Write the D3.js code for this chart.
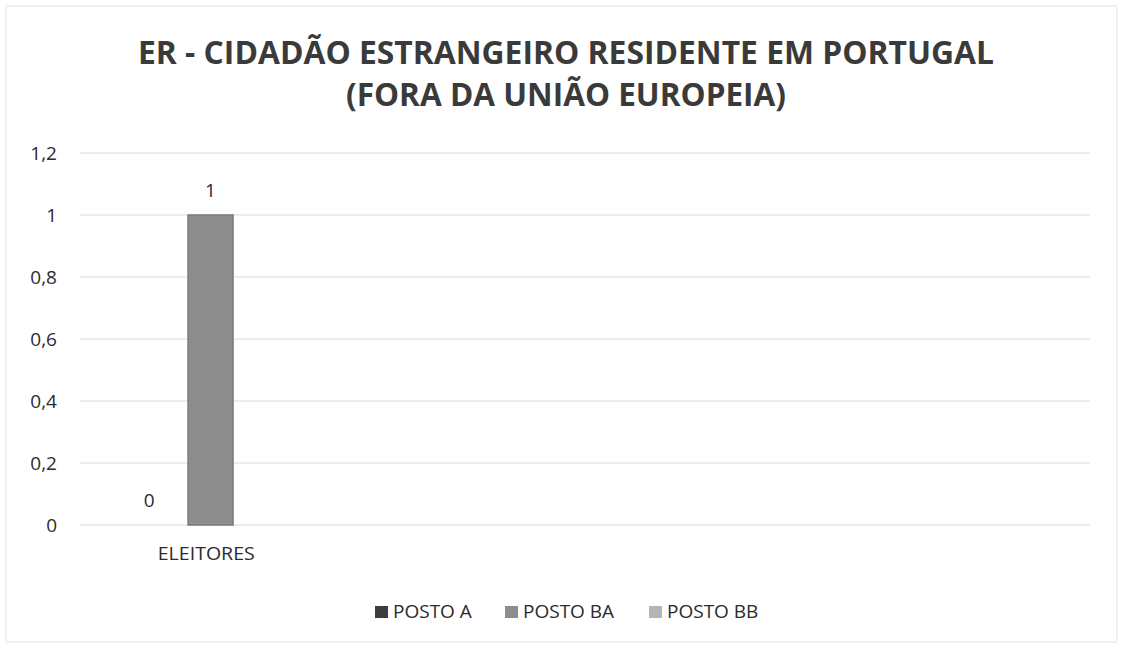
<!DOCTYPE html>
<html>
<head>
<meta charset="utf-8">
<script src="https://cdn.jsdelivr.net/npm/d3@7"></script>
<style>
  body { margin: 0; background: #fff; }
  text { font-family: "Open Sans", "Noto Sans", sans-serif; }
</style>
</head>
<body>
<div id="chart"></div>
<script>
// chart data
const categories = ["ELEITORES", "", "", ""];
const seriesNames = ["POSTO A", "POSTO BA", "POSTO BB"];
const postoA = [0, null, null, null];
const postoBA = [1, null, null, null];
const postoBB = [null, null, null, null];
const yTicks = [0, 0.2, 0.4, 0.6, 0.8, 1, 1.2];
const titleLines = ["ER - CIDADÃO ESTRANGEIRO RESIDENTE EM PORTUGAL", "(FORA DA UNIÃO EUROPEIA)"];

const colors = ["#3d3d3d", "#8d8d8d", "#b5b5b5"];
const allSeries = [postoA, postoBA, postoBB];

const W = 1123, H = 646;
const MARGIN = { TOP: 153, BOTTOM: 121, LEFT: 80, RIGHT: 33 };
const WIDTH = W - MARGIN.LEFT - MARGIN.RIGHT;
const HEIGHT = H - MARGIN.TOP - MARGIN.BOTTOM;

const svg = d3.select("#chart")
    .append("svg")
    .attr("width", W)
    .attr("height", H);

// faint outer frame
svg.append("rect")
    .attr("x", 6).attr("y", 6)
    .attr("width", W - 12).attr("height", H - 10)
    .attr("fill", "none")
    .attr("stroke", "#e4e4e4");

// title
svg.selectAll("text.title")
    .data(titleLines)
    .enter().append("text")
    .attr("class", "title")
    .attr("x", 566)
    .attr("y", (d, i) => 64 + i * 42)
    .attr("text-anchor", "middle")
    .attr("font-size", 32)
    .attr("font-weight", "bold")
    .attr("fill", "#3a3a3a")
    .attr("textLength", (d, i) => i === 0 ? 856 : 440)
    .attr("lengthAdjust", "spacingAndGlyphs")
    .text(d => d);

const g = svg.append("g")
    .attr("transform", "translate(" + MARGIN.LEFT + "," + MARGIN.TOP + ")");

const y = d3.scaleLinear()
    .domain([0, 1.2])
    .range([HEIGHT, 0]);

const x = d3.scaleBand()
    .domain(d3.range(categories.length))
    .range([0, WIDTH])
    .paddingInner(0)
    .paddingOuter(0);

// gridlines
g.selectAll("line.grid")
    .data(yTicks)
    .enter().append("line")
    .attr("class", "grid")
    .attr("x1", 0).attr("x2", WIDTH)
    .attr("y1", d => y(d)).attr("y2", d => y(d))
    .attr("stroke", "#dadada")
    .attr("stroke-width", 1);

// y axis labels
const yAxis = d3.axisLeft(y)
    .tickValues(yTicks)
    .tickSize(0)
    .tickPadding(23)
    .tickFormat(d => String(d).replace(".", ","));
const yG = g.append("g").call(yAxis);
yG.select(".domain").remove();
yG.selectAll("text")
    .attr("font-size", 19)
    .attr("fill", "#2b2b2b")
    .attr("font-family", "'Open Sans', sans-serif");

// x axis labels
const xAxis = d3.axisBottom(x)
    .tickSize(0)
    .tickPadding(22)
    .tickFormat(i => categories[i]);
const xG = g.append("g")
    .attr("transform", "translate(0," + HEIGHT + ")")
    .call(xAxis);
xG.select(".domain").remove();
xG.selectAll("text")
    .attr("font-size", 18)
    .attr("fill", "#2b2b2b")
    .attr("font-family", "'Open Sans', sans-serif")
    .attr("textLength", d => categories[d] ? 97 : null)
    .attr("lengthAdjust", "spacingAndGlyphs");

// bars inside each category: 3 series with a small gap between them
const barW = 45, barGap = 12;
const groupW = seriesNames.length * barW + (seriesNames.length - 1) * barGap;
const sx = d3.scaleBand()
    .domain(d3.range(seriesNames.length))
    .range([x.bandwidth() / 2 - groupW / 2 - barGap / 2, x.bandwidth() / 2 + groupW / 2 + barGap / 2])
    .paddingInner(barGap / (barW + barGap))
    .paddingOuter(0);

const points = [];
allSeries.forEach((vals, s) => {
    vals.forEach((v, c) => {
        if (v !== null) points.push({ s: s, c: c, v: v });
    });
});

g.selectAll("rect.bar")
    .data(points)
    .enter().append("rect")
    .attr("class", "bar")
    .attr("x", d => x(d.c) + sx(d.s) + barGap / 2)
    .attr("y", d => y(d.v))
    .attr("width", barW)
    .attr("height", d => HEIGHT - y(d.v))
    .attr("fill", d => colors[d.s])
    .attr("stroke", d => d.v > 0 ? "#7a7a7a" : "none")
    .attr("stroke-width", 1.5);

// data labels
g.selectAll("text.lbl")
    .data(points)
    .enter().append("text")
    .attr("class", "lbl")
    .attr("x", d => x(d.c) + sx(d.s) + barGap / 2 + barW / 2)
    .attr("y", d => y(d.v) - 18)
    .attr("text-anchor", "middle")
    .attr("font-size", 19)
    .attr("fill", "#2b2b2b")
    .text(d => String(d.v).replace(".", ","));

// legend
const legendX = [375, 505, 649];
const leg = svg.selectAll("g.leg")
    .data(seriesNames)
    .enter().append("g")
    .attr("class", "leg")
    .attr("transform", (d, i) => "translate(" + legendX[i] + ",618)");
leg.append("rect")
    .attr("x", 0).attr("y", -12)
    .attr("width", 13).attr("height", 12)
    .attr("fill", (d, i) => colors[i]);
leg.append("text")
    .attr("x", 18)
    .attr("y", 0)
    .attr("font-size", 19)
    .attr("fill", "#2b2b2b")
    .text(d => d);
</script>
</body>
</html>
